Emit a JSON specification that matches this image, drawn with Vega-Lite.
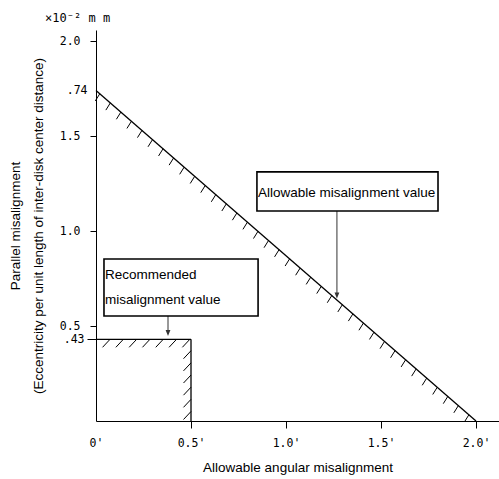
{
  "$schema": "https://vega.github.io/schema/vega-lite/v6.json",
  "width": 403,
  "height": 391,
  "autosize": {"type": "none"},
  "padding": {"left": 96, "top": 30, "right": 0, "bottom": 58},
  "background": "white",
  "config": {"view": {"stroke": null}},
  "datasets": {
    "segs": [
      {"x": 0, "y": 1.74, "x2": 2.0, "y2": 0, "kind": "limit"},
      {"x": 0, "y": 0.43, "x2": 0.5, "y2": 0.43, "kind": "limit"},
      {"x": 0.5, "y": 0.43, "x2": 0.5, "y2": 0, "kind": "limit"}
    ],
    "arrows": [
      {"x": 1.268, "y": 1.105, "x2": 1.268, "y2": 0.67},
      {"x": 0.379, "y": 0.553, "x2": 0.379, "y2": 0.47}
    ],
    "heads": [
      {"x": 1.268, "y": 0.645},
      {"x": 0.379, "y": 0.447}
    ],
    "diagHatch": [
      {"x": 0.02, "y": 1.7226}, {"x": 0.0755, "y": 1.6743}, {"x": 0.131, "y": 1.626},
      {"x": 0.1865, "y": 1.5777}, {"x": 0.242, "y": 1.5295}, {"x": 0.2975, "y": 1.4812},
      {"x": 0.353, "y": 1.4329}, {"x": 0.4085, "y": 1.3846}, {"x": 0.464, "y": 1.3363},
      {"x": 0.5195, "y": 1.288}, {"x": 0.575, "y": 1.2398}, {"x": 0.6305, "y": 1.1915},
      {"x": 0.686, "y": 1.1432}, {"x": 0.7415, "y": 1.0949}, {"x": 0.797, "y": 1.0466},
      {"x": 0.8525, "y": 0.9983}, {"x": 0.908, "y": 0.95}, {"x": 0.9635, "y": 0.9018},
      {"x": 1.019, "y": 0.8535}, {"x": 1.0745, "y": 0.8052}, {"x": 1.13, "y": 0.7569},
      {"x": 1.1855, "y": 0.7086}, {"x": 1.241, "y": 0.6603}, {"x": 1.2965, "y": 0.612},
      {"x": 1.352, "y": 0.5638}, {"x": 1.4075, "y": 0.5155}, {"x": 1.463, "y": 0.4672},
      {"x": 1.5185, "y": 0.4189}, {"x": 1.574, "y": 0.3706}, {"x": 1.6295, "y": 0.3223},
      {"x": 1.685, "y": 0.2741}, {"x": 1.7405, "y": 0.2258}, {"x": 1.796, "y": 0.1775},
      {"x": 1.8515, "y": 0.1292}, {"x": 1.907, "y": 0.0809}, {"x": 1.9625, "y": 0.0326}
    ],
    "boxHatch": [
      {"x": 0.074, "y": 0.43}, {"x": 0.144, "y": 0.43}, {"x": 0.214, "y": 0.43},
      {"x": 0.284, "y": 0.43}, {"x": 0.354, "y": 0.43}, {"x": 0.424, "y": 0.43},
      {"x": 0.494, "y": 0.43},
      {"x": 0.5, "y": 0.37}, {"x": 0.5, "y": 0.306}, {"x": 0.5, "y": 0.242},
      {"x": 0.5, "y": 0.178}, {"x": 0.5, "y": 0.114}, {"x": 0.5, "y": 0.05}
    ],
    "boxes": [
      {"x": 0.847, "y": 1.105, "x2": 1.8, "y2": 1.311},
      {"x": 0.042, "y": 0.553, "x2": 0.853, "y2": 0.853}
    ],
    "notes": [
      {"x": 0.853, "y": 1.2, "t": "Allowable misalignment value"},
      {"x": 0.047, "y": 0.768, "t": "Recommended"},
      {"x": 0.047, "y": 0.637, "t": "misalignment value"}
    ],
    "unit": [
      {"x": -0.268, "y": 2.121, "t": "×10⁻² m m"}
    ]
  },
  "encoding": {
    "x": {
      "field": "x", "type": "quantitative",
      "scale": {"domain": [0, 2.121], "zero": false, "nice": false},
      "axis": {
        "values": [0, 0.5, 1, 1.5, 2],
        "labelExpr": "datum.value == 0 ? \"0'\" : format(datum.value, '.1f') + \"'\"",
        "grid": false,
        "domainColor": "black", "domainWidth": 1,
        "tickColor": {"condition": {"test": "datum.value == 0", "value": "transparent"}, "value": "black"},
        "tickSize": 7, "tickWidth": 1,
        "labelFont": "DejaVu Sans Mono", "labelFontSize": 11.5, "labelColor": "black",
        "labelPadding": 9, "labelFlush": false, "labelOverlap": false,
        "title": "Allowable angular misalignment",
        "titleFont": "Liberation Sans", "titleFontSize": 13.5, "titleFontWeight": "normal", "titleColor": "black",
        "titleX": 201.5, "titleY": 46, "titleBaseline": "middle", "titleAlign": "center", "titleAnchor": "middle"
      }
    },
    "y": {
      "field": "y", "type": "quantitative",
      "scale": {"domain": [0, 2.058], "zero": false, "nice": false},
      "axis": {
        "values": [0.43, 0.5, 1, 1.5, 1.74, 2],
        "labelExpr": "datum.value == 1.74 ? '.74' : datum.value == 0.43 ? '.43' : format(datum.value, '.1f')",
        "grid": false,
        "domainColor": "black", "domainWidth": 1,
        "tickColor": {"condition": {"test": "datum.value == 1.74", "value": "transparent"}, "value": "black"},
        "tickSize": {"condition": {"test": "datum.value == 0.43", "value": 9}, "value": 6},
        "tickWidth": 1,
        "labelFont": "DejaVu Sans Mono", "labelFontSize": 11.5, "labelColor": "black",
        "labelPadding": {"condition": {"test": "datum.value == 0.43 || datum.value == 1.74", "value": 3}, "value": 10},
        "labelFlush": false, "labelOverlap": false, "labelBaseline": "middle",
        "title": ["Parallel misalignment", "(Eccentricity per unit length of inter-disk center distance)"],
        "titleFont": "Liberation Sans", "titleFontSize": 13.5, "titleFontWeight": "normal", "titleColor": "black",
        "titleX": -81, "titleY": 195.5, "titleAngle": -90, "titleBaseline": "middle", "titleAlign": "center",
        "titleLineHeight": 23
      }
    }
  },
  "layer": [
    {
      "data": {"name": "segs"},
      "mark": {"type": "rule", "color": "black", "strokeWidth": 1.3},
      "encoding": {"x2": {"field": "x2"}, "y2": {"field": "y2"}}
    },
    {
      "data": {"name": "arrows"},
      "mark": {"type": "rule", "color": "#333333", "strokeWidth": 1},
      "encoding": {"x2": {"field": "x2"}, "y2": {"field": "y2"}}
    },
    {
      "data": {"name": "heads"},
      "mark": {"type": "point", "shape": "M0,0L-0.4,-1L0.4,-1Z", "size": 144, "filled": true, "color": "#333333", "opacity": 1, "strokeWidth": 0}
    },
    {
      "data": {"name": "diagHatch"},
      "mark": {"type": "point", "shape": "M0,0L-0.45,0.72", "size": 400, "filled": false, "stroke": "black", "strokeWidth": 1, "opacity": 1}
    },
    {
      "data": {"name": "boxHatch"},
      "mark": {"type": "point", "shape": "M0,0L-0.75,0.8", "size": 400, "filled": false, "stroke": "black", "strokeWidth": 1, "opacity": 1}
    },
    {
      "data": {"name": "boxes"},
      "mark": {"type": "rect", "fill": "white", "stroke": "black", "strokeWidth": 1.6},
      "encoding": {"x2": {"field": "x2"}, "y2": {"field": "y2"}}
    },
    {
      "data": {"name": "notes"},
      "mark": {"type": "text", "align": "left", "baseline": "middle", "font": "Liberation Sans", "fontSize": 13.5, "color": "black"},
      "encoding": {"text": {"field": "t"}}
    },
    {
      "data": {"name": "unit"},
      "mark": {"type": "text", "align": "left", "baseline": "middle", "font": "DejaVu Sans Mono", "fontSize": 12, "color": "black"},
      "encoding": {"text": {"field": "t"}}
    }
  ]
}
